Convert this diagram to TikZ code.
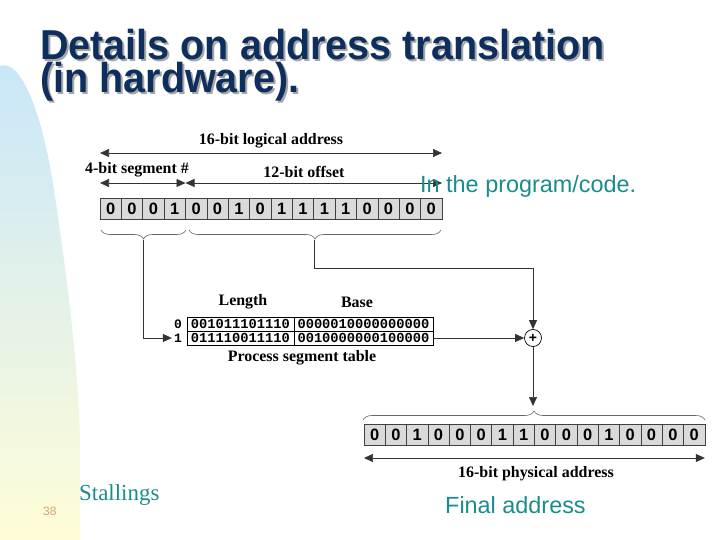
\documentclass[tikz,border=0pt]{standalone}
\usepackage{fontspec}
\setmainfont{Liberation Serif}
\setsansfont{Liberation Sans}
\setmonofont{Liberation Mono}
\newfontfamily\titlefont[FakeStretch=0.945]{Liberation Sans}
\usepackage{xcolor}
\usetikzlibrary{positioning,arrows.meta,decorations.pathreplacing}
\definecolor{titleblue}{RGB}{14,47,94}
\definecolor{noteteal}{RGB}{26,140,140}
\definecolor{cellgray}{RGB}{218,218,218}
\definecolor{pagenum}{RGB}{205,165,115}
\definecolor{sideblue}{RGB}{200,230,250}
\definecolor{sideyellow}{RGB}{255,253,215}

\begin{document}
\begin{tikzpicture}[x=1bp, y=-1bp, >={Triangle[length=9bp,width=8bp]},
	bit/.style={draw=black!75, fill=cellgray, line width=0.6bp, minimum width=21.375bp, minimum height=21bp, inner sep=0pt, outer sep=0pt, font=\sffamily\bfseries\fontsize{16.5}{16.5}\selectfont},
	tab/.style={draw, line width=0.6bp, minimum height=14bp, inner sep=0pt, outer sep=0pt, font=\ttfamily\bfseries\fontsize{13.8}{13.8}\selectfont},
	rowno/.style={inner sep=0pt, font=\ttfamily\bfseries\fontsize{13}{13}\selectfont},
	lbl/.style={inner sep=0pt, font=\bfseries\fontsize{16}{16}\selectfont},
	note/.style={anchor=base west, inner sep=0pt, text=noteteal, font=\sffamily\fontsize{23.5}{23.5}\selectfont},
	wire/.style={draw=black!80, line width=0.7bp},
	bracedec/.style={draw=black!60, line width=0.6bp, decorate, decoration={brace, amplitude=9bp}}]
	\useasboundingbox (0,0) rectangle (720,540);
	% side bar
	\shade[top color=sideblue, bottom color=sideyellow] (0,66) .. controls (20,58) and (42,110) .. (54,190)
		.. controls (66,270) and (78,360) .. (80,440) -- (80,540) -- (0,540) -- cycle;
	% title
	\node[anchor=base west, align=left, inner sep=0pt, text=black!35, font=\titlefont\bfseries\fontsize{42}{34}\selectfont] at (42,95) {Details on address translation\\(in hardware).};
	\node[anchor=base west, align=left, inner sep=0pt, text=titleblue, font=\titlefont\bfseries\fontsize{42}{34}\selectfont] (title) at (40,93) {Details on address translation\\(in hardware).};

	% logical address
	\node[lbl] (logcap) at (271,141) {16-bit logical address};
	\node[lbl] (segcap) at (137,170) {4-bit segment \#};
	\node[lbl] (offcap) at (304,172) {12-bit offset};
	\foreach \b [count=\i] in {0,0,0,1,0,0,1,0,1,1,1,1,0,0,0,0}
		\node[bit] (l\i) at ({100+21.375*(\i-0.5)},209) {\b};
	\draw[wire, <->] (l1.west |- 0,153) coordinate (la) -- (la -| l16.east);
	\draw[wire, <->] (l1.west |- 0,183) coordinate (sa) -- (sa -| l4.east);
	\draw[wire, <->] (l5.west |- 0,183) coordinate (oa) -- (oa -| l16.east);
	\draw[bracedec, decoration={mirror}] (101,230) -- (186,230);
	\draw[bracedec, decoration={mirror}] (189,230) -- (441,230);
	\coordinate (segtip) at (143.5,240);
	\coordinate (offtip) at (314.5,240);
	\node[note] (prog) at (420,193) {In the program/code.};

	% segment table
	\node[tab, minimum width=107bp] (len0) at (240.5,324) {001011101110};
	\node[tab, minimum width=139bp, right=0pt of len0] (base0) {0000010000000000};
	\node[tab, minimum width=107bp] (len1) at (240.5,338) {011110011110};
	\node[tab, minimum width=139bp, right=0pt of len1] (base1) {0010000000100000};
	\node[rowno, left=5bp of len0] (r0) {0};
	\node[rowno, left=5bp of len1] (r1) {1};
	\node[lbl] at (243,302) {Length};
	\node[lbl] at (357,302) {Base};
	\node[lbl] at (302,358) {Process segment table};
	\node[draw, circle, line width=0.7bp, minimum size=17bp, inner sep=0pt, font=\sffamily\bfseries\fontsize{14}{14}\selectfont] (adder) at (533,338) {+};

	% connectors
	\draw[wire, ->] (segtip) |- ([xshift=-2bp]r1.west);
	\draw[wire, ->] (offtip) -- ++(0,28) -| (adder.north);
	\draw[wire, ->] (base1.east) -- (adder.west);
	\coordinate (phystip) at (533,406);
	\draw[wire, ->] (adder.south) -- (phystip);

	% physical address
	\draw[bracedec] (363,420) -- (705,420);
	\foreach \b [count=\i] in {0,0,1,0,0,0,1,1,0,0,0,1,0,0,0,0}
		\node[bit] (p\i) at ({364+21.3*(\i-0.5)},435) {\b};
	\draw[wire, <->] (p1.west |- 0,458) coordinate (pa) -- (pa -| p16.east);
	\node[lbl] (physcap) at (536,474) {16-bit physical address};
	\node[note] (final) at (445,513) {Final address};

	% footer
	\node[anchor=base west, inner sep=0pt, text=noteteal, font=\fontsize{23}{23}\selectfont] (author) at (79,500) {Stallings};
	\node[anchor=base west, inner sep=0pt, text=pagenum, font=\sffamily\fontsize{12}{12}\selectfont] (page) at (43,515) {38};
\end{tikzpicture}
\end{document}
